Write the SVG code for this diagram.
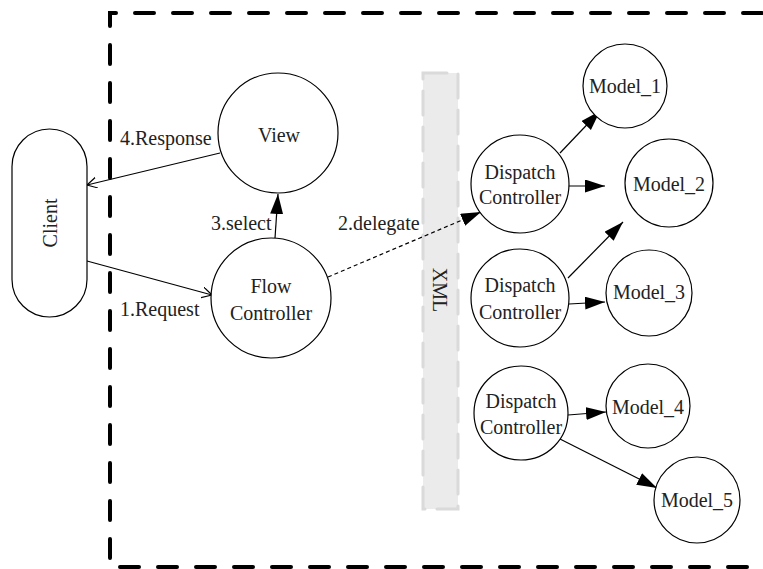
<svg xmlns="http://www.w3.org/2000/svg" width="763" height="569" viewBox="0 0 763 569" font-family="'Liberation Serif', 'Tinos', 'Noto Serif', 'DejaVu Serif', serif">
<style>
text{font-size:20px;fill:#222;text-anchor:middle}
.node{fill:#fff;stroke:#000;stroke-width:1.2}
.edge{stroke:#000;stroke-width:1.2;fill:none}
.lbl{text-anchor:start}
</style>
<defs>
<marker id="fill" markerUnits="userSpaceOnUse" markerWidth="21" markerHeight="14" refX="20" refY="6.5" orient="auto">
<path d="M0,0 L20,6.5 L0,13 z" fill="#000"/>
</marker>
<marker id="open" markerUnits="userSpaceOnUse" markerWidth="12" markerHeight="12" refX="10" refY="5.5" orient="auto">
<path d="M0,0 L10,5.5 L0,11" fill="none" stroke="#000" stroke-width="1.2"/>
</marker>
</defs>
<rect width="763" height="569" fill="#fff"/>
<path d="M800,13 L110,13 L110,567 L800,567" fill="none" stroke="#000" stroke-width="4" stroke-linecap="round" stroke-dasharray="19 19"/>
<g id="xml">
<rect x="423" y="73" width="35" height="436" fill="#ebebeb" stroke="#dadada" stroke-width="3" stroke-dasharray="24 12" stroke-linecap="round"/>
<text transform="translate(440,290) rotate(90)" y="7">XML</text>
</g>
<g id="connectors">
<line class="edge" x1="87" y1="261" x2="212" y2="295" marker-end="url(#open)"/>
<line class="edge" x1="220" y1="153" x2="87" y2="185" marker-end="url(#open)"/>
<line class="edge" x1="275" y1="238" x2="278" y2="194" marker-end="url(#fill)"/>
<line class="edge" x1="328" y1="277" x2="481" y2="212" stroke-dasharray="4 3" stroke-width="1.5" marker-end="url(#fill)"/>
<line class="edge" x1="560" y1="153" x2="600" y2="111" marker-end="url(#fill)"/>
<line class="edge" x1="569" y1="186" x2="605" y2="186" marker-end="url(#fill)"/>
<line class="edge" x1="568" y1="278" x2="623" y2="222" marker-end="url(#fill)"/>
<line class="edge" x1="569" y1="304" x2="605" y2="302" marker-end="url(#fill)"/>
<line class="edge" x1="568" y1="415" x2="606" y2="412" marker-end="url(#fill)"/>
<line class="edge" x1="560" y1="439" x2="657" y2="488" marker-end="url(#fill)"/>
<text class="lbl" x="120" y="145">4.Response</text>
<text class="lbl" x="211" y="230">3.select</text>
<text class="lbl" x="338" y="230">2.delegate</text>
<text class="lbl" x="120" y="316">1.Request</text>
</g>
<g id="client">
<rect class="node" x="12" y="129" width="75" height="188" rx="37.5"/>
<text transform="translate(50,223) rotate(-90)" y="7">Client</text>
</g>
<g id="view">
<circle class="node" cx="278" cy="133" r="60"/>
<text x="279" y="142">View</text>
</g>
<g id="flow">
<circle class="node" cx="271" cy="298" r="60"/>
<text x="271" y="293">Flow</text>
<text x="271" y="320">Controller</text>
</g>
<g id="dispatch1">
<circle class="node" cx="520" cy="184" r="49"/>
<text x="520" y="179">Dispatch</text>
<text x="520" y="204">Controller</text>
</g>
<g id="dispatch2">
<circle class="node" cx="520" cy="298" r="49"/>
<text x="520" y="292">Dispatch</text>
<text x="520" y="319">Controller</text>
</g>
<g id="dispatch3">
<circle class="node" cx="521" cy="413" r="47"/>
<text x="521" y="408">Dispatch</text>
<text x="521" y="434">Controller</text>
</g>
<g id="model1">
<circle class="node" cx="625" cy="86" r="42"/>
<text x="625" y="93">Model_1</text>
</g>
<g id="model2">
<circle class="node" cx="669" cy="183" r="44"/>
<text x="669" y="191">Model_2</text>
</g>
<g id="model3">
<circle class="node" cx="649" cy="293" r="43"/>
<text x="649" y="299">Model_3</text>
</g>
<g id="model4">
<circle class="node" cx="648" cy="406" r="42"/>
<text x="648" y="414">Model_4</text>
</g>
<g id="model5">
<circle class="node" cx="697" cy="500" r="43"/>
<text x="697" y="507">Model_5</text>
</g>
</svg>
